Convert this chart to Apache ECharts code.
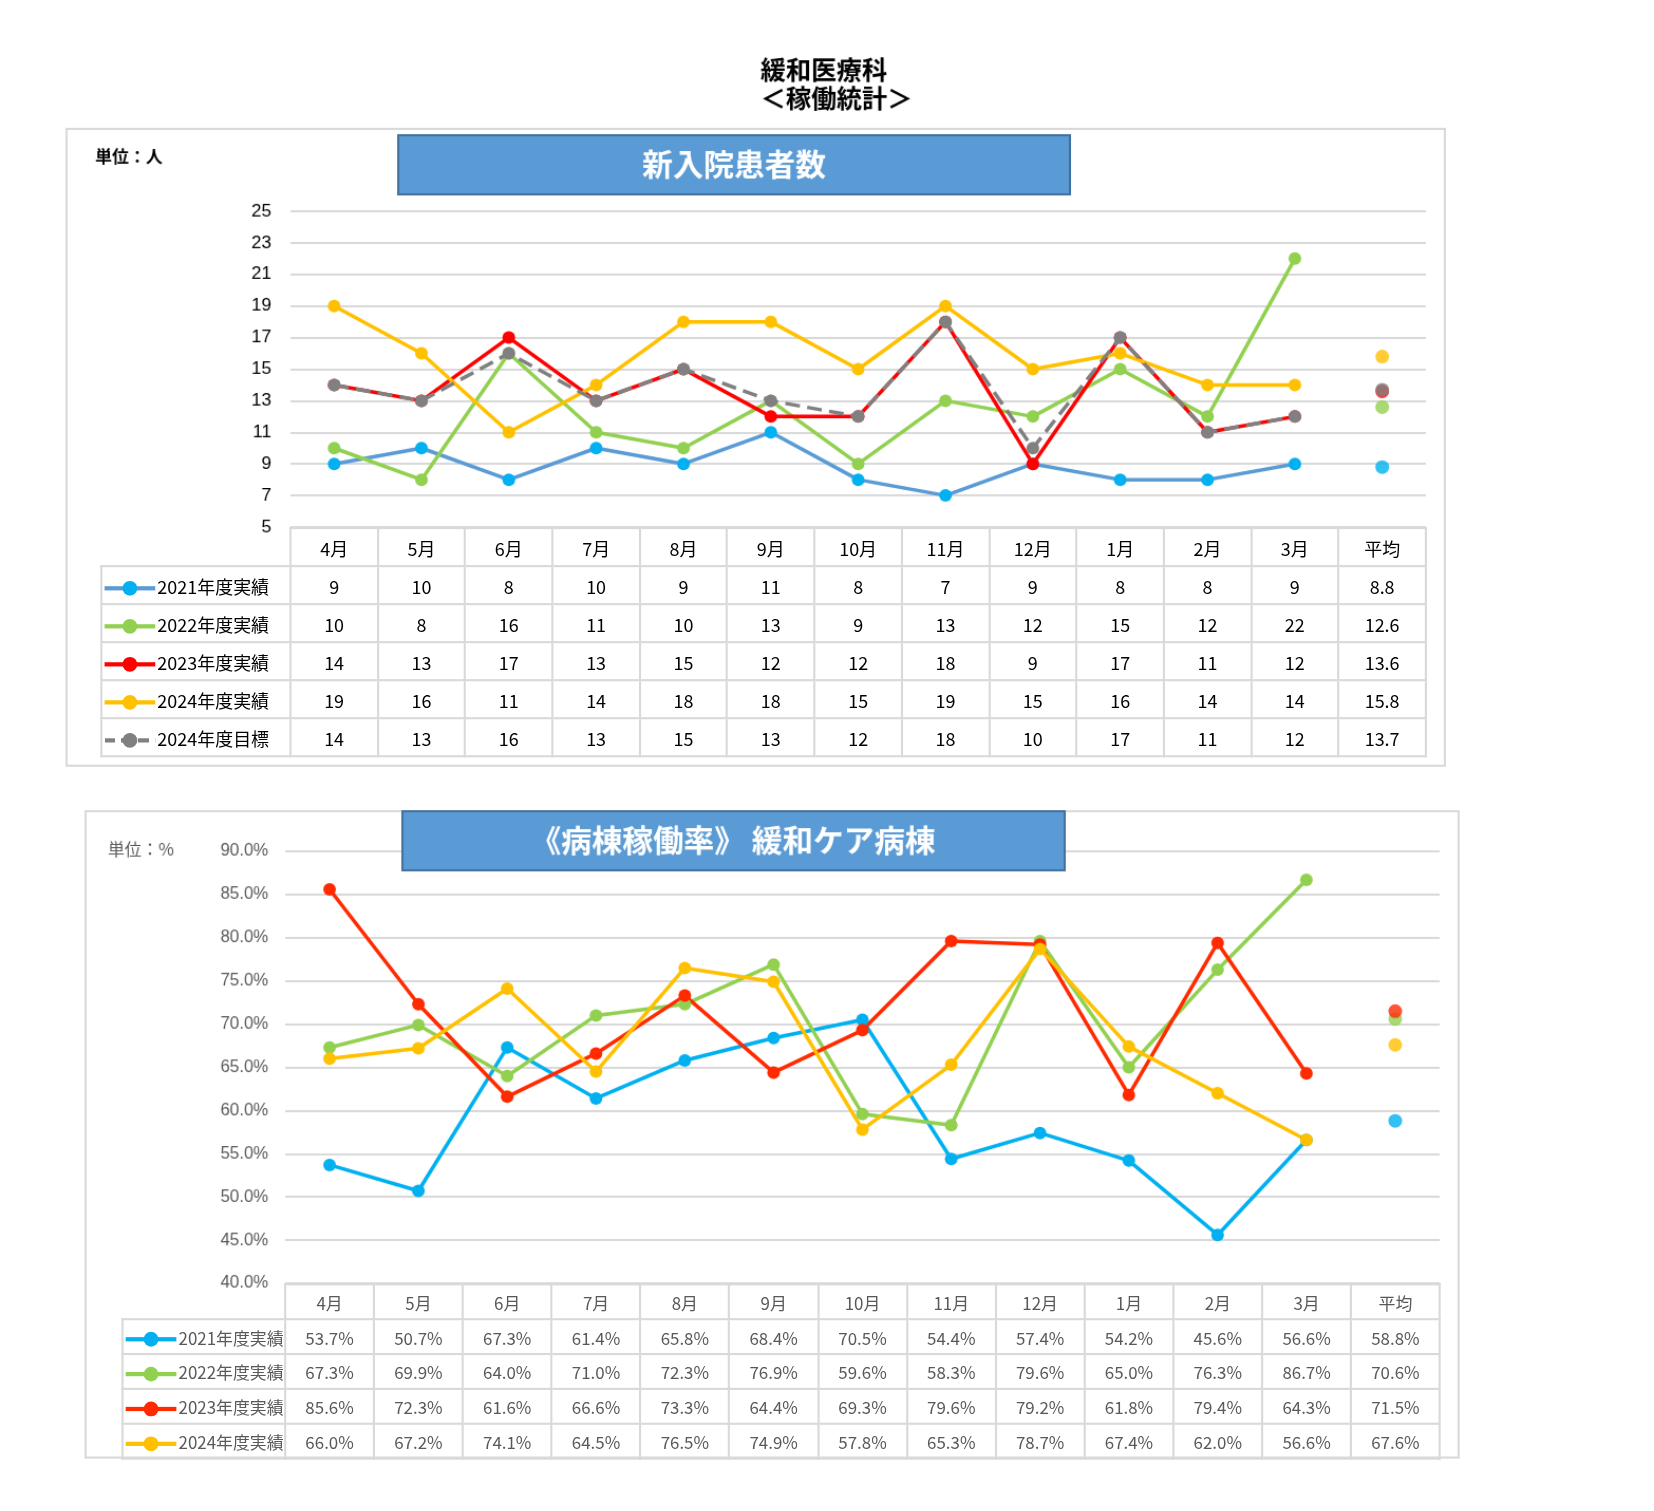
<!DOCTYPE html>
<html><head><meta charset="utf-8">
<script src="https://cdn.jsdelivr.net/npm/echarts@6/dist/echarts.min.js"></script>
<style>
body{margin:0;background:#fff;font-family:"Noto Sans CJK JP",sans-serif;overflow:hidden;}
#wrap{position:absolute;left:0;top:0;width:1566px;height:1431px;transform:scale(1.0562);transform-origin:0 0;}
#c{position:absolute;left:0;top:0;width:1566px;height:1431px;}
table{position:absolute;border-collapse:collapse;font-family:"Noto Sans CJK JP";}
td{border:2px solid #d9d9d9;text-align:center;padding:0;color:#222;}
td.lg{text-align:left;white-space:nowrap;}
.sw{display:inline-block;vertical-align:middle;width:48px;height:14px;position:relative;margin:0 2px 0 2px;}
.sw i{position:absolute;left:0;right:0;top:5px;height:4px;}
.sw b{position:absolute;left:17px;top:0;width:14px;height:14px;border-radius:50%;}
</style></head><body>
<div id="wrap"><div id="c"></div></div>
<script>
const months=['4月','5月','6月','7月','8月','9月','10月','11月','12月','1月','2月','3月','平均'];
const names1=['2021年度実績','2022年度実績','2023年度実績','2024年度実績','2024年度目標'];
const p2021=[9,10,8,10,9,11,8,7,9,8,8,9], a2021=8.8;
const p2022=[10,8,16,11,10,13,9,13,12,15,12,22], a2022=12.6;
const p2023=[14,13,17,13,15,12,12,18,9,17,11,12], a2023=13.6;
const p2024=[19,16,11,14,18,18,15,19,15,16,14,14], a2024=15.8;
const t2024=[14,13,16,13,15,13,12,18,10,17,11,12], at2024=13.7;
const names2=['2021年度実績','2022年度実績','2023年度実績','2024年度実績'];
const r2021=[53.7,50.7,67.3,61.4,65.8,68.4,70.5,54.4,57.4,54.2,45.6,56.6], ra2021=58.8;
const r2022=[67.3,69.9,64.0,71.0,72.3,76.9,59.6,58.3,79.6,65.0,76.3,86.7], ra2022=70.6;
const r2023=[85.6,72.3,61.6,66.6,73.3,64.4,69.3,79.6,79.2,61.8,79.4,64.3], ra2023=71.5;
const r2024=[66.0,67.2,74.1,64.5,76.5,74.9,57.8,65.3,78.7,67.4,62.0,56.6], ra2024=67.6;

const top1={data:[p2021,p2022,p2023,p2024,t2024],avg:[a2021,a2022,a2023,a2024,at2024],
 line:['#5b9bd5','#92d050','#ff0000','#ffc000','#808080'],mk:['#00b0f0','#92d050','#ff0000','#ffc000','#808080']};
const bot={data:[r2021,r2022,r2023,r2024],avg:[ra2021,ra2022,ra2023,ra2024],
 line:['#00b0f0','#92d050','#ff2a00','#ffc000'],mk:['#00b0f0','#92d050','#ff2a00','#ffc000']};

const series=[];
function add(set,gi,dashIdx){
 set.data.forEach((d,i)=>{
  series.push({type:'line',xAxisIndex:gi,yAxisIndex:gi,data:d.concat(['-']),symbol:'circle',symbolSize:12,
   lineStyle:{width:3.5,color:set.line[i],type:i===dashIdx?'dashed':'solid'},itemStyle:{color:set.mk[i]},z:i===dashIdx?5:3});
  series.push({type:'scatter',xAxisIndex:gi,yAxisIndex:gi,data:[...Array(12).fill('-'),set.avg[i]],symbolSize:13,itemStyle:{color:set.mk[i]}});
 });
}
add(top1,0,4); add(bot,1,-1);
const ch=echarts.init(document.getElementById('c'));
ch.setOption({animation:false,
 grid:[{left:275,top:200,width:1075,height:299},{left:270,top:806,width:1093,height:409}],
 xAxis:[0,1].map(g=>({gridIndex:g,type:'category',data:months,boundaryGap:true,axisLabel:{show:false},axisTick:{show:false},axisLine:{show:false}})),
 yAxis:[{gridIndex:0,min:5,max:25,interval:2,axisLabel:{fontSize:17,color:'#000',margin:18},splitLine:{lineStyle:{color:'#d9d9d9',width:2}},axisLine:{show:false}},
  {gridIndex:1,min:40,max:90,interval:5,axisLabel:{fontSize:16,color:'#595959',margin:16,formatter:v=>v.toFixed(1)+'%'},splitLine:{lineStyle:{color:'#d9d9d9',width:2}},axisLine:{show:false}}],
 series,
 graphic:[
  {type:'text',left:720,top:52,z:100,style:{text:'緩和医療科\n＜稼働統計＞',font:'bold 24px "Noto Sans CJK JP"',align:'center',lineHeight:27,fill:'#000'}},
  {type:'rect',z:100,shape:{x:63,y:122,width:1305,height:603},style:{fill:'none',stroke:'#d9d9d9',lineWidth:2}},
  {type:'rect',z:100,shape:{x:377,y:128,width:636,height:56},style:{fill:'#5b9bd5',stroke:'#41719c',lineWidth:2}},
  {type:'text',z:101,x:695,y:156,style:{text:'新入院患者数',font:'bold 29px "Noto Sans CJK JP"',fill:'#fff',align:'center',verticalAlign:'middle'}},
  {type:'text',z:100,x:90,y:140,style:{text:'単位：人',font:'bold 16px "Noto Sans CJK JP"',fill:'#000'}},
  {type:'rect',z:100,shape:{x:81,y:768,width:1300,height:612},style:{fill:'none',stroke:'#d9d9d9',lineWidth:2}},
  {type:'rect',z:100,shape:{x:381,y:768,width:627,height:56},style:{fill:'#5b9bd5',stroke:'#41719c',lineWidth:2}},
  {type:'text',z:101,x:694,y:796,style:{text:'《病棟稼働率》 緩和ケア病棟',font:'bold 29px "Noto Sans CJK JP"',fill:'#fff',align:'center',verticalAlign:'middle'}},
  {type:'text',z:100,x:102,y:796,style:{text:'単位：%',font:'16px "Noto Sans CJK JP"',fill:'#595959'}}
 ]});

function table(left,top,legW,colW,headH,rowH,names,set,fmt,fs,dashIdx,color){
 let h='<table style="left:'+left+'px;top:'+top+'px;font-size:'+fs+'px;color:'+color+'">';
 h+='<tr style="height:'+headH+'px"><td style="border:none;width:'+legW+'px"></td>'+months.map(m=>'<td style="width:'+colW+'px;color:'+color+'">'+m+'</td>').join('')+'</tr>';
 names.forEach((n,i)=>{
  const dash=i===dashIdx?'background:repeating-linear-gradient(90deg,'+set.line[i]+' 0 10px,transparent 10px 16px)':'background:'+set.line[i];
  h+='<tr style="height:'+rowH+'px"><td class="lg" style="color:'+color+'"><span class="sw"><i style="'+dash+'"></i><b style="background:'+set.mk[i]+'"></b></span>'+n+'</td>'+
   set.data[i].concat([set.avg[i]]).map(v=>'<td style="color:'+color+'">'+fmt(v)+'</td>').join('')+'</tr>';
 });
 document.getElementById('wrap').insertAdjacentHTML('beforeend',h+'</table>');
}
table(95,499,178,80.7,36,36,names1,top1,v=>String(v),17,4,'#000');
table(115,1215,153,82.1,33,33,names2,bot,v=>v.toFixed(1)+'%',16,-1,'#595959');
</script></body></html>
